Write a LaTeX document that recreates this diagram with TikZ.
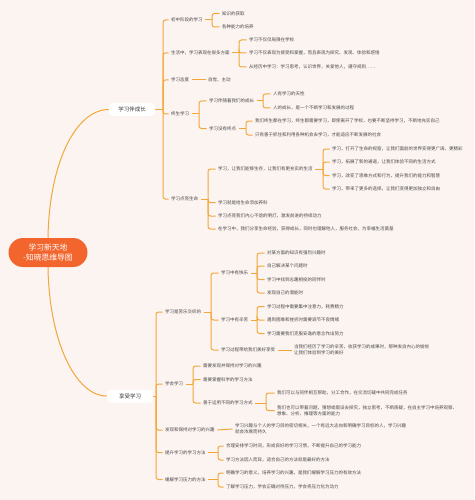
\documentclass[tikz,border=0pt]{standalone}
\usepackage{fontspec}
\setmainfont{Noto Sans CJK SC}
\definecolor{bgc}{HTML}{FCF4F1}
\definecolor{linec}{HTML}{F3A73A}
\definecolor{rootc}{HTML}{F2662E}
\definecolor{leafc}{HTML}{484848}
\definecolor{brc}{HTML}{333333}
\tikzset{
  conn/.style={draw=linec, line width=1pt},
  leaf/.style={anchor=west, inner xsep=2.5pt, inner ysep=1pt, xshift=-2.5pt, text=leafc, align=left,
    font=\fontsize{4.5}{6.3}\selectfont},
  rootbox/.style={fill=rootc, text=white, rounded corners=14.5pt, minimum width=79pt, minimum height=29pt,
    align=center, inner sep=0pt, font=\fontsize{7.8}{10}\selectfont},
  brbox/.style={fill=white, text=brc, rounded corners=4pt, minimum width=46pt, minimum height=13pt,
    inner sep=0pt, font=\fontsize{5.5}{6.5}\selectfont}
}
\newcommand\mybr[3]{%
  \draw[conn] (#1.east) -- (#2,0 |- #1.east);
  \foreach \cc in {#3}{\draw[conn,rounded corners=2.5pt] (#2,0 |- #1.east) |- (\cc.west);}
}
\begin{document}
\begin{tikzpicture}[x=1pt,y=-1pt]
\fill[bgc] (0,0) rectangle (474,500);
\useasboundingbox (0,0) rectangle (474,500);

\node[rootbox] (root) at (48,252.5) {学习新天地\\-知晓思维导图};
\node[brbox] (b1) at (132,109.5) {学习伴成长};
\node[brbox] (b2) at (130,396) {享受学习};
\draw[conn] (root.north) .. controls (49,165) and (75,109.5) .. (b1.west);
\draw[conn] (root.south) .. controls (49,340) and (75,396) .. (b2.west);

% ---------- branch 1 ----------
\node[leaf] (c1) at (171,20) {初中阶段的学习};
\node[leaf] (c1a) at (222,13.5) {知识的获取};
\node[leaf] (c1b) at (222,27) {各种能力的培养};

\node[leaf] (c2) at (171,53) {生活中，学习表现在很多方面};
\node[leaf] (c2a) at (249,40) {学习不仅仅局限在学校};
\node[leaf] (c2b) at (249,53) {学习不仅表现为接受和掌握，而且表现为探究、发现、体验和感悟};
\node[leaf] (c2c) at (249,67) {从经历中学习：学习思考，认识世界，关爱他人，遵守规则……};

\node[leaf] (c3) at (171,80) {学习态度};
\node[leaf] (c3a) at (208,80) {自觉、主动};

\node[leaf] (c4) at (171,114) {终生学习};
\node[leaf] (d1) at (209,101) {学习伴随着我们的成长};
\node[leaf] (d1a) at (273,94) {人有学习的天性};
\node[leaf] (d1b) at (273,108) {人的成长，是一个不断学习和发展的过程};
\node[leaf] (d2) at (209,128.5) {学习没有终点};
\node[leaf] (d2a) at (255,121) {我们终生都在学习，终生都需要学习，即使离开了学校，也要不断坚持学习，不断地充实自己};
\node[leaf] (d2b) at (255,135) {只有善于抓住和利用各种机会去学习，才能适应不断发展的社会};

\node[leaf] (c5) at (171,199) {学习点亮生命};
\node[leaf] (e1) at (218,169) {学习，让我们能够生存，让我们有更充实的生活};
\node[leaf] (e1a) at (332,149) {学习，打开了生命的视窗，让我们面前的世界变得更广阔、更精彩};
\node[leaf] (e1b) at (332,162) {学习，拓展了新的通道，让我们体验不同的生活方式};
\node[leaf] (e1c) at (332,175.5) {学习，改变了思维方式和行为，提升我们的能力和智慧};
\node[leaf] (e1d) at (332,189) {学习，带来了更多的选择，让我们变得更加独立和自由};
\node[leaf] (e2) at (218,202.5) {学习就是给生命添加养料};
\node[leaf] (e3) at (218,216) {学习点亮我们内心不熄的明灯，激发前进的持续动力};
\node[leaf] (e4) at (218,229) {在学习中，我们分享生命经验，获得成长，同时也理解他人，服务社会，为幸福生活奠基};

\mybr{b1}{163}{c1,c2,c3,c4,c5}
\mybr{c1}{212}{c1a,c1b}
\mybr{c2}{239}{c2a,c2b,c2c}
\draw[conn] (c3.east) -- (c3a.west);
\mybr{c4}{199}{d1,d2}
\mybr{d1}{263}{d1a,d1b}
\mybr{d2}{246}{d2a,d2b}
\mybr{c5}{208}{e1,e2,e3,e4}
\mybr{e1}{323}{e1a,e1b,e1c,e1d}

% ---------- branch 2 ----------
\node[leaf] (f1) at (165,312) {学习是苦乐交织的};
\node[leaf] (g1) at (221,273) {学习中有快乐};
\node[leaf] (g1a) at (267,253) {对某方面的知识有强烈兴趣时};
\node[leaf] (g1b) at (267,266) {自己解决某个问题时};
\node[leaf] (g1c) at (267,279.5) {学习中找到志趣相投的同伴时};
\node[leaf] (g1d) at (267,293) {发现自己的潜能时};
\node[leaf] (g2) at (221,320) {学习中有辛苦};
\node[leaf] (g2a) at (267,306.5) {学习过程中需要集中注意力，耗费精力};
\node[leaf] (g2b) at (267,320) {遇到困难和挫折时需要调节不良情绪};
\node[leaf] (g2c) at (267,333.5) {学习需要我们克服安逸的意念作出努力};
\node[leaf] (g3) at (221,350) {学习过程带给我们美好享受};
\node[leaf] (g3a) at (294,350) {当我们经历了学习的辛苦，收获学习的成果时，那种发自内心的愉悦\\让我们体验到学习的美好};

\node[leaf] (f2) at (165,384) {学会学习};
\node[leaf] (h1) at (203,366) {需要发现并保持对学习的兴趣};
\node[leaf] (h2) at (203,379.5) {需要掌握科学的学习方法};
\node[leaf] (h3) at (203,403) {善于运用不同的学习方式};
\node[leaf] (h3a) at (277,393) {我们可以与同伴相互帮助，分工合作，在交流切磋中共同完成任务};
\node[leaf] (h3b) at (277,410.5) {我们也可以带着问题，猜想或假设去探究，独立思考，不断质疑，在自主学习中培养观察、\\想象、分析、推理等方面的能力};

\node[leaf] (f3) at (165,430) {发现和保持对学习的兴趣};
\node[leaf] (f3a) at (235,429) {学习兴趣与个人的学习目的密切相关，一个有远大志向和明确学习目标的人，学习兴趣\\就会浓厚而持久};

\node[leaf] (f4) at (165,452.5) {提升学习的学习方法};
\node[leaf] (f4a) at (226,446) {合理安排学习时间，形成良好的学习习惯，不断提升自己的学习能力};
\node[leaf] (f4b) at (226,460) {学习方法因人而异，适合自己的方法就是最好的方法};

\node[leaf] (f5) at (165,479.5) {缓解学习压力的方法};
\node[leaf] (f5a) at (226,473) {明确学习的意义，培养学习的兴趣，是我们缓解学习压力的有效方法};
\node[leaf] (f5b) at (226,487) {了解学习压力，学会正确对待压力，学会将压力化为动力};

\mybr{b2}{156}{f1,f2,f3,f4,f5}
\mybr{f1}{211}{g1,g2,g3}
\mybr{g1}{257}{g1a,g1b,g1c,g1d}
\mybr{g2}{257}{g2a,g2b,g2c}
\draw[conn] (g3.east) -- (g3a.west);
\mybr{f2}{193}{h1,h2,h3}
\mybr{h3}{266}{h3a,h3b}
\draw[conn] (f3.east) -- (f3a.west);
\mybr{f4}{218}{f4a,f4b}
\mybr{f5}{218}{f5a,f5b}
\end{tikzpicture}
\end{document}
